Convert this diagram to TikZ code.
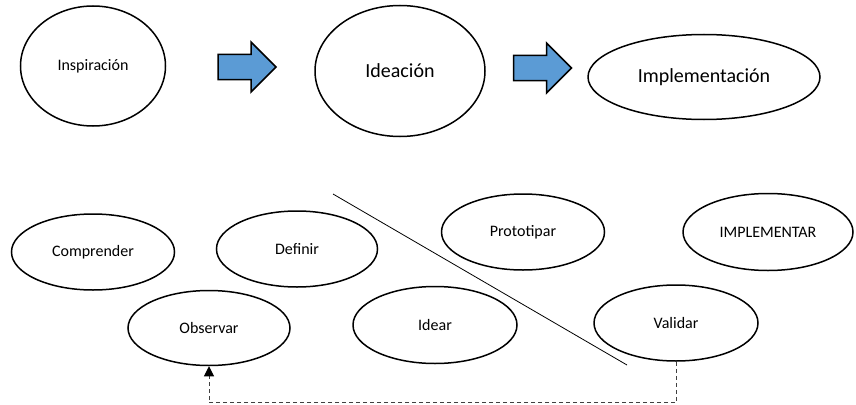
\documentclass[tikz,border=0pt]{standalone}
\usepackage{fontspec}
\setmainfont{Carlito}
\usepackage{tikz}
\usetikzlibrary{arrows.meta,shapes.geometric}
\definecolor{arrowblue}{RGB}{91,155,213}

\begin{document}
\begin{tikzpicture}[x=1pt, y=-1pt,
  phase/.style={draw=black, line width=1.5pt, ellipse, inner sep=0pt,
                font=\fontsize{16}{19}\selectfont},
  bigphase/.style={phase, font=\fontsize{20}{24}\selectfont},
  blockarrow/.style={draw=black, line width=1.5pt, fill=arrowblue, line join=miter},
  divider/.style={draw=black, line width=0.8pt},
  back/.style={-{Triangle[length=10pt, width=10pt, black]}, dashed, line width=1pt,
               dash pattern=on 4pt off 3pt, black!75},
  fatarrow/.pic={\path[blockarrow] (-29,-12.5) -- (4,-12.5) -- (4,-25) -- (29,0)
                 -- (4,25) -- (4,12.5) -- (-29,12.5) -- cycle;}
]
  \useasboundingbox (0,0) rectangle (856,404);
  % Row A
  \node[phase, minimum width=145pt, minimum height=120pt] (insp) at (93,66) {Inspiración};
  \pic at (247,67) {fatarrow};
  \node[bigphase, minimum width=170pt, minimum height=131pt] (idea) at (400,71) {Ideación};
  \pic at (542.5,68) {fatarrow};
  \node[bigphase, minimum width=232pt, minimum height=85pt] (impl) at (704,77) {Implementación};
  % Row B
  \node[phase, minimum width=163pt, minimum height=76pt] (compr) at (93,252) {Comprender};
  \node[phase, minimum width=161pt, minimum height=76pt] (defin) at (297,249) {Definir};
  \node[phase, minimum width=162pt, minimum height=75pt] (obs) at (209,328) {Observar};
  \node[phase, minimum width=164pt, minimum height=77pt] (idear) at (435,325) {Idear};
  \node[phase, minimum width=163pt, minimum height=76pt] (proto) at (523,232) {Prototipar};
  \node[phase, minimum width=170pt, minimum height=77pt] (implm) at (768,232) {IMPLEMENTAR};
  \node[phase, minimum width=164pt, minimum height=76pt] (valid) at (676,323) {Validar};
  % Divider
  \coordinate (d1) at (333,194);
  \coordinate (d2) at (627,365);
  \draw[divider] (d1) -- (d2);
  % Loop back
  \draw[back] (valid.south) -- ++(0,41) -| (obs.south);
\end{tikzpicture}
\end{document}
